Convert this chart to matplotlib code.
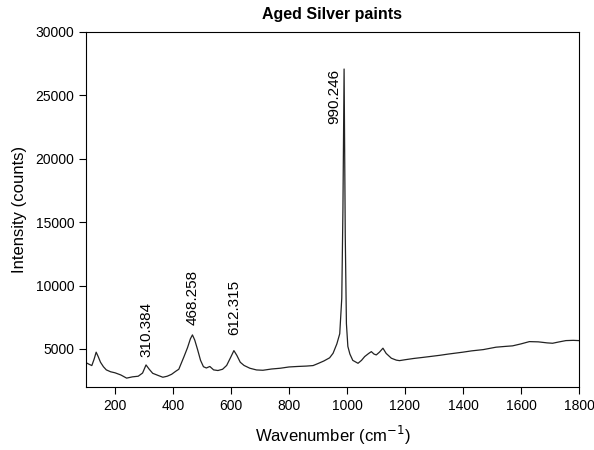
import matplotlib
matplotlib.use("Agg")
import matplotlib.pyplot as plt

plt.rcParams['font.family'] = ['Liberation Sans', 'DejaVu Sans']

# Raman spectrum
wavenumber = [100, 110, 120, 128, 135, 142, 150, 160, 170, 185, 200, 220, 240, 260, 280,
              295, 307, 318, 330, 350, 365, 380, 395, 410, 420, 438, 450, 460, 467, 475,
              485, 495, 505, 515, 527, 540, 555, 571, 585, 598, 610, 620, 632, 645, 665,
              688, 710, 740, 770, 800, 830, 860, 883, 900, 920, 940, 952, 965, 975, 982,
              986, 990, 994, 998, 1003, 1010, 1020, 1038, 1050, 1061, 1075, 1084, 1093,
              1101, 1112, 1124, 1135, 1153, 1170, 1181, 1200, 1230, 1260, 1285, 1320,
              1350, 1399, 1430, 1470, 1514, 1545, 1571, 1600, 1629, 1660, 1690, 1709,
              1730, 1755, 1780, 1800]
intensity = [3920, 3800, 3690, 4200, 4745, 4400, 3950, 3600, 3350, 3200, 3120, 2950, 2700,
             2800, 2850, 3100, 3740, 3400, 3080, 2900, 2770, 2850, 3000, 3250, 3400, 4400,
             5100, 5800, 6110, 5700, 4930, 4100, 3600, 3500, 3620, 3350, 3300, 3400, 3700,
             4300, 4870, 4500, 3950, 3700, 3480, 3345, 3320, 3420, 3480, 3580, 3620, 3650,
             3690, 3850, 4050, 4300, 4660, 5400, 6200, 9000, 16000, 27080, 14000, 7000,
             5200, 4600, 4100, 3870, 4100, 4400, 4650, 4790, 4600, 4530, 4750, 5060, 4650,
             4270, 4120, 4080, 4150, 4250, 4330, 4400, 4500, 4600, 4745, 4850, 4950, 5140,
             5200, 5245, 5400, 5580, 5560, 5480, 5450, 5550, 5660, 5680, 5660]

# peak labels: text, x position, y position (bottom of text)
peak_labels = ["310.384", "468.258", "612.315"]
peak_x = [310, 469, 610]
peak_y = [4370, 6900, 6110]

fig = plt.figure(figsize=(5.94, 4.5), dpi=100)
ax = fig.add_axes([0.1448, 0.14, 0.8299, 0.7889])

ax.plot(wavenumber, intensity, color="#222222", linewidth=0.9)

for i in range(len(peak_labels)):
    ax.text(peak_x[i], peak_y[i], peak_labels[i], rotation=90, ha="center", va="bottom", fontsize=11)
ax.text(957, 27080, "990.246", rotation=90, ha="center", va="top", fontsize=11)

ax.set_xlim(100, 1800)
ax.set_ylim(2000, 30000)
ax.set_xticks(range(200, 1801, 200))
ax.set_yticks(range(5000, 30001, 5000))
ax.tick_params(direction="out", length=5, width=0.8, labelsize=10, top=False, right=False)
for s in ax.spines.values():
    s.set_linewidth(0.8)

ax.set_xlabel("Wavenumber (cm$^{-1}$)", fontsize=12, labelpad=8)
ax.set_ylabel("Intensity (counts)", fontsize=12, labelpad=6)
ax.set_title("Aged Silver paints", fontsize=11.5, fontweight="bold", pad=9)

fig.savefig("out.png", dpi=100)
